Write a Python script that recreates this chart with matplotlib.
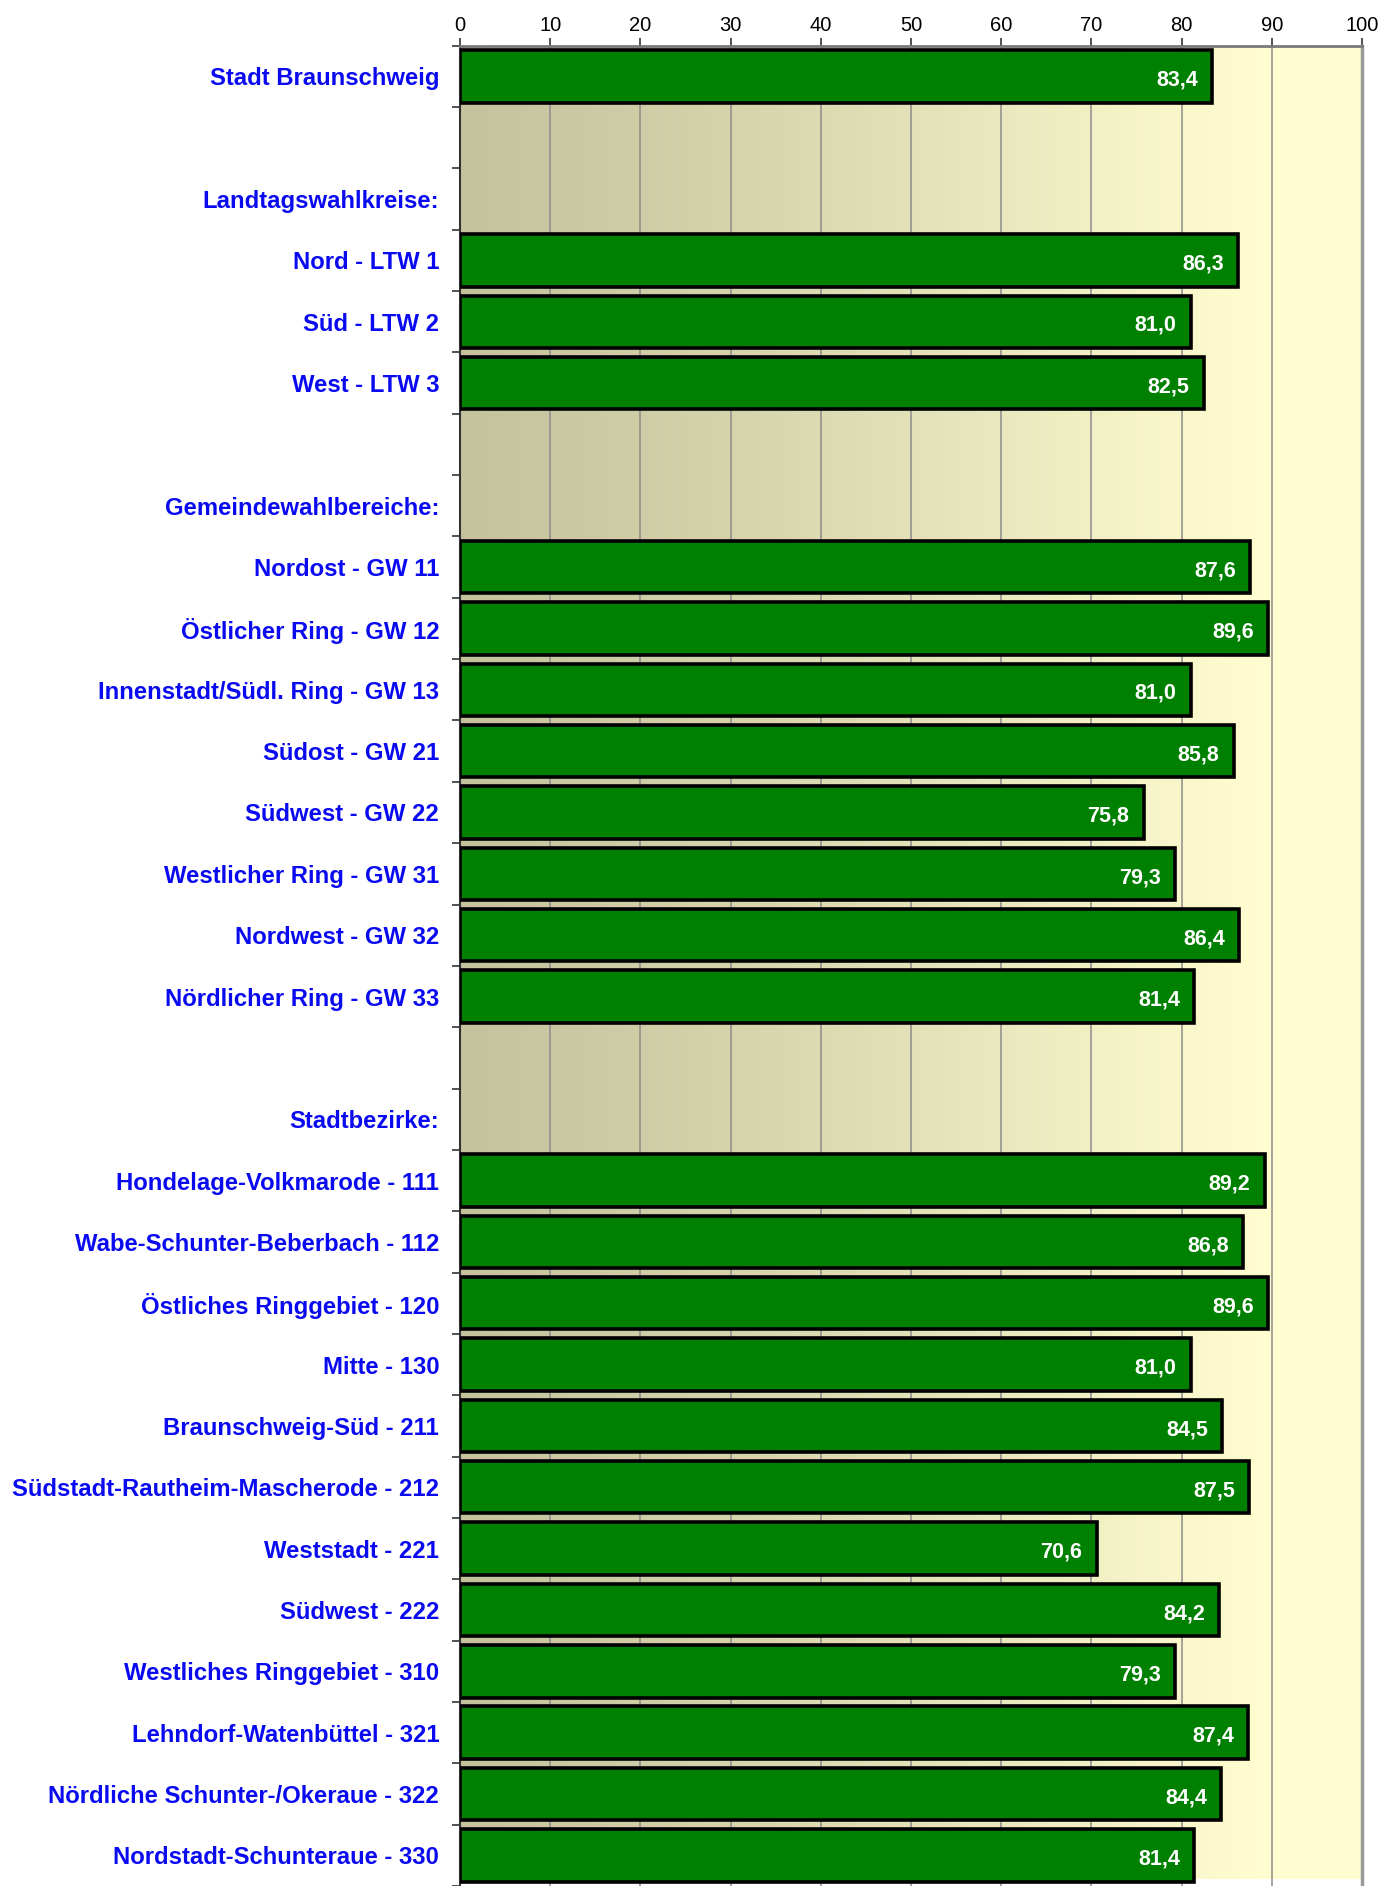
import numpy as np
import matplotlib
matplotlib.use("Agg")
import matplotlib.pyplot as plt

plt.rcParams['font.family'] = ['Liberation Sans', 'DejaVu Sans']

categories = [
    "Stadt Braunschweig", "", "Landtagswahlkreise:",
    "Nord - LTW 1", "Süd - LTW 2", "West - LTW 3", "", "Gemeindewahlbereiche:",
    "Nordost - GW 11", "Östlicher Ring - GW 12", "Innenstadt/Südl. Ring - GW 13",
    "Südost - GW 21", "Südwest - GW 22", "Westlicher Ring - GW 31",
    "Nordwest - GW 32", "Nördlicher Ring - GW 33", "", "Stadtbezirke:",
    "Hondelage-Volkmarode - 111", "Wabe-Schunter-Beberbach - 112",
    "Östliches Ringgebiet - 120", "Mitte - 130", "Braunschweig-Süd - 211",
    "Südstadt-Rautheim-Mascherode - 212", "Weststadt - 221", "Südwest - 222",
    "Westliches Ringgebiet - 310", "Lehndorf-Watenbüttel - 321",
    "Nördliche Schunter-/Okeraue - 322", "Nordstadt-Schunteraue - 330",
]
values = [
    83.4, None, None,
    86.3, 81.0, 82.5, None, None,
    87.6, 89.6, 81.0, 85.8, 75.8, 79.3, 86.4, 81.4, None, None,
    89.2, 86.8, 89.6, 81.0, 84.5, 87.5, 70.6, 84.2, 79.3, 87.4, 84.4, 81.4,
]
xticks = [0, 10, 20, 30, 40, 50, 60, 70, 80, 90, 100]

W, H = 1398, 1886
fig = plt.figure(figsize=(W / 100, H / 100), dpi=100)
left, right, top = 460 / W, 1362 / W, 45.7 / H
ax = fig.add_axes([left, 0.0, right - left, 1 - top])

n = len(categories)
ax.set_xlim(0, 100)
ax.set_ylim(29.39, -0.47)

# background gradient
xs = np.linspace(0, 1, 512)
t = np.clip(xs / 0.88, 0, 1) ** 1.15
c0 = np.array([196, 195, 158]) / 255
c1 = np.array([255, 253, 208]) / 255
grad = (c0[None, :] * (1 - t[:, None]) + c1[None, :] * t[:, None])[None, :, :]
ax.imshow(grad, extent=[0, 100, 29.39, -0.47], aspect='auto', zorder=0, interpolation='bilinear')

for xv in xticks[1:-1]:
    ax.axvline(xv, color='#8c8c8c', lw=1.1, zorder=1)

for i, v in enumerate(values):
    if v is None:
        continue
    ax.barh(i, v, height=0.855, color='#008000', edgecolor='black', linewidth=2.6, zorder=3)
    ax.text(v - 1.6, i + 0.06, f"{v:.1f}".replace('.', ','), ha='right', va='center',
            color='white', fontsize=15.5, fontweight='bold', zorder=4)

ax.set_yticks(range(n))
ax.set_yticklabels(categories, fontsize=17.2, fontweight='bold', color='#0a0af0')
ax.tick_params(axis='y', which='major', length=0, pad=15)
ax.set_yticks(np.arange(-0.5, n, 1.0), minor=True)
ax.tick_params(axis='y', which='minor', length=6, width=1.2, color='#333333', direction='out')

ax.xaxis.tick_top()
ax.set_xticks(xticks)
ax.set_xticklabels([str(x) for x in xticks], fontsize=14.5)
ax.tick_params(axis='x', which='major', length=6, width=1.2, color='#333333', pad=2)

ax.spines['bottom'].set_visible(False)
ax.spines['left'].set_color('#333333')
ax.spines['left'].set_linewidth(1.5)
ax.spines['top'].set_color('#7a7a7a')
ax.spines['top'].set_linewidth(2)
ax.spines['right'].set_color('#9a9a9a')
ax.spines['right'].set_linewidth(2.5)

fig.savefig('out.png', dpi=100)
